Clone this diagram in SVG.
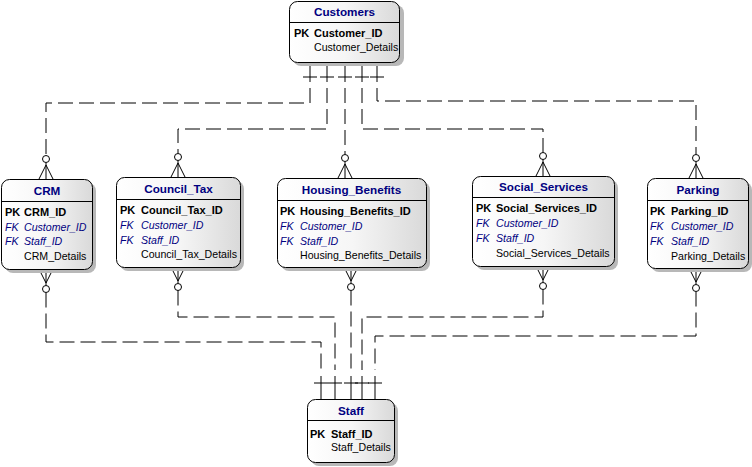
<svg xmlns="http://www.w3.org/2000/svg" xmlns:xlink="http://www.w3.org/1999/xlink" width="752" height="467" viewBox="0 0 752 467">
<style>
.box{stroke:#000;stroke-width:1;fill:url(#gr)}
.shd{fill:#b8b8b8;stroke:none}
.sep{stroke:#000;stroke-width:1}
.ttl{font-family:"Liberation Sans",Arial,sans-serif;font-size:11.7px;font-weight:bold;fill:#000080;text-anchor:middle}
.pk{font-family:"Liberation Sans",Arial,sans-serif;font-size:11px;font-weight:bold;fill:#000}
.fk{font-family:"Liberation Sans",Arial,sans-serif;font-size:10.6px;font-style:italic;fill:#000080}
.at{font-family:"Liberation Sans",Arial,sans-serif;font-size:10.6px;fill:#000}
.dash{fill:none;stroke:#000;stroke-width:1;stroke-dasharray:15 6}
.sol{fill:none;stroke:#000;stroke-width:1}
</style>
<defs>
<linearGradient id="gr" x1="0" y1="0" x2="1" y2="0">
<stop offset="0" stop-color="#ffffff"/>
<stop offset="0.5" stop-color="#f6f6f6"/>
<stop offset="1" stop-color="#d9d9d9"/>
</linearGradient>
<g id="cfTop" class="sol"><path d="M0,-14 L-7,0 M0,-14 L7,0 M0,-16.5 V0"/><circle cx="0" cy="-20" r="3.5" fill="#fff"/></g>
<g id="cfBot" class="sol"><path d="M0,14 L-7,0 M0,14 L7,0 M0,16.5 V0"/><circle cx="0" cy="20" r="3.5" fill="#fff"/></g>
<g id="oneDown" class="sol"><path d="M0,0 V20 M-7,15 H7"/></g>
<g id="oneUp" class="sol"><path d="M0,0 V-23 M-7,-16 H7"/></g>
</defs>

<g id="connectors">
<path class="dash" d="M310,88 V103 H46 V155.5"/>
<path class="dash" d="M327,88 V129 H178 V153.5"/>
<path class="dash" d="M345,88 V154.5"/>
<path class="dash" d="M362,88 V129 H543 V152.5"/>
<path class="dash" d="M377,88 V101 H696 V154.5"/>
<use xlink:href="#oneDown" x="310" y="62"/>
<use xlink:href="#oneDown" x="327" y="62"/>
<use xlink:href="#oneDown" x="345" y="62"/>
<use xlink:href="#oneDown" x="362" y="62"/>
<use xlink:href="#oneDown" x="377" y="62"/>
<use xlink:href="#cfTop" x="46" y="179"/>
<use xlink:href="#cfTop" x="178" y="177"/>
<use xlink:href="#cfTop" x="345" y="178"/>
<use xlink:href="#cfTop" x="543" y="176"/>
<use xlink:href="#cfTop" x="696" y="178"/>

<path class="dash" d="M46,292.5 V342 H321 V370"/>
<path class="dash" d="M178,290.5 V317 H335 V370"/>
<path class="dash" d="M351,290.5 V370"/>
<path class="dash" d="M543,289.5 V317 H362 V370"/>
<path class="dash" d="M696,291.5 V336 H375 V370"/>
<use xlink:href="#cfBot" x="46" y="269"/>
<use xlink:href="#cfBot" x="178" y="267"/>
<use xlink:href="#cfBot" x="351" y="267"/>
<use xlink:href="#cfBot" x="543" y="266"/>
<use xlink:href="#cfBot" x="696" y="268"/>
<use xlink:href="#oneUp" x="321" y="399"/>
<use xlink:href="#oneUp" x="335" y="399"/>
<use xlink:href="#oneUp" x="351" y="399"/>
<use xlink:href="#oneUp" x="362" y="399"/>
<use xlink:href="#oneUp" x="375" y="399"/>
</g>

<g id="Customers">
<rect class="shd" x="293" y="5" width="111" height="61" rx="8"/>
<rect class="box" x="289.5" y="1.5" width="110" height="61" rx="8"/>
<line class="sep" x1="289.5" y1="22.5" x2="399.5" y2="22.5"/>
<text class="ttl" x="344.5" y="15.5">Customers</text>
<text class="pk" x="294" y="37">PK</text>
<text class="pk" x="314" y="37">Customer_ID</text>
<text class="at" x="314" y="51">Customer_Details</text>
</g>

<g id="CRM">
<rect class="shd" x="5" y="183" width="91" height="90" rx="8"/>
<rect class="box" x="1.5" y="179.5" width="91" height="90" rx="8"/>
<line class="sep" x1="1.5" y1="201.5" x2="92.5" y2="201.5"/>
<text class="ttl" x="47" y="195">CRM</text>
<text class="pk" x="5" y="216">PK</text>
<text class="pk" x="24" y="216">CRM_ID</text>
<text class="fk" x="5" y="231">FK</text>
<text class="fk" x="24" y="231">Customer_ID</text>
<text class="fk" x="5" y="245">FK</text>
<text class="fk" x="24" y="245">Staff_ID</text>
<text class="at" x="24" y="260">CRM_Details</text>
</g>

<g id="Council_Tax">
<rect class="shd" x="120" y="181" width="124" height="90" rx="8"/>
<rect class="box" x="116.5" y="177.5" width="124" height="90" rx="8"/>
<line class="sep" x1="116.5" y1="199.5" x2="240.5" y2="199.5"/>
<text class="ttl" x="178.5" y="193">Council_Tax</text>
<text class="pk" x="120" y="214">PK</text>
<text class="pk" x="141" y="214">Council_Tax_ID</text>
<text class="fk" x="120" y="229">FK</text>
<text class="fk" x="141" y="229">Customer_ID</text>
<text class="fk" x="120" y="244">FK</text>
<text class="fk" x="141" y="244">Staff_ID</text>
<text class="at" x="141" y="258">Council_Tax_Details</text>
</g>

<g id="Housing_Benefits">
<rect class="shd" x="281" y="182" width="149" height="89" rx="8"/>
<rect class="box" x="277.5" y="178.5" width="149" height="89" rx="8"/>
<line class="sep" x1="277.5" y1="200.5" x2="426.5" y2="200.5"/>
<text class="ttl" x="351.5" y="194">Housing_Benefits</text>
<text class="pk" x="280" y="215">PK</text>
<text class="pk" x="300" y="215">Housing_Benefits_ID</text>
<text class="fk" x="280" y="230">FK</text>
<text class="fk" x="300" y="230">Customer_ID</text>
<text class="fk" x="280" y="245">FK</text>
<text class="fk" x="300" y="245">Staff_ID</text>
<text class="at" x="300" y="259">Housing_Benefits_Details</text>
</g>

<g id="Social_Services">
<rect class="shd" x="476" y="180" width="142" height="90" rx="8"/>
<rect class="box" x="472.5" y="176.5" width="142" height="90" rx="8"/>
<line class="sep" x1="472.5" y1="197.5" x2="614.5" y2="197.5"/>
<text class="ttl" x="543.5" y="191">Social_Services</text>
<text class="pk" x="476" y="212">PK</text>
<text class="pk" x="496" y="212">Social_Services_ID</text>
<text class="fk" x="476" y="227">FK</text>
<text class="fk" x="496" y="227">Customer_ID</text>
<text class="fk" x="476" y="242">FK</text>
<text class="fk" x="496" y="242">Staff_ID</text>
<text class="at" x="496" y="257">Social_Services_Details</text>
</g>

<g id="Parking">
<rect class="shd" x="651" y="182" width="101" height="90" rx="8"/>
<rect class="box" x="647.5" y="178.5" width="101" height="90" rx="8"/>
<line class="sep" x1="647.5" y1="200.5" x2="748.5" y2="200.5"/>
<text class="ttl" x="698" y="194">Parking</text>
<text class="pk" x="650" y="215">PK</text>
<text class="pk" x="671" y="215">Parking_ID</text>
<text class="fk" x="650" y="230">FK</text>
<text class="fk" x="671" y="230">Customer_ID</text>
<text class="fk" x="650" y="245">FK</text>
<text class="fk" x="671" y="245">Staff_ID</text>
<text class="at" x="671" y="260">Parking_Details</text>
</g>

<g id="Staff">
<rect class="shd" x="311" y="403" width="87" height="63" rx="8"/>
<rect class="box" x="307.5" y="399.5" width="87" height="63" rx="8"/>
<line class="sep" x1="307.5" y1="420.5" x2="394.5" y2="420.5"/>
<text class="ttl" x="351" y="415">Staff</text>
<text class="pk" x="310" y="437.5">PK</text>
<text class="pk" x="331" y="437.5">Staff_ID</text>
<text class="at" x="331" y="451">Staff_Details</text>
</g>
</svg>
